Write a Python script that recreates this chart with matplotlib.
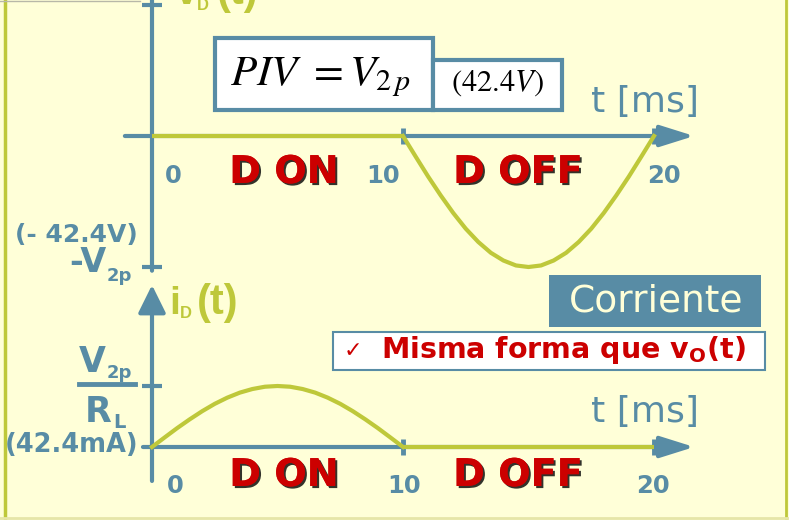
import matplotlib
matplotlib.use('Agg')
import matplotlib.pyplot as plt
import matplotlib.patheffects as pe
from matplotlib.patches import Rectangle

# --- colours (taken from the slide) ---
BG = '#FFFFD8'
BLUE = '#588CA5'
YEL = '#BEC83A'
RED = '#CC0000'

# --- 1. DATA ---
# half-wave rectifier, 20 ms period, peak 42.4 V / 42.4 mA
t_on = [0.0, 0.5, 1.0, 1.5, 2.0, 2.5, 3.0, 3.5, 4.0, 4.5, 5.0,
        5.5, 6.0, 6.5, 7.0, 7.5, 8.0, 8.5, 9.0, 9.5, 10.0]
t_off = [10.0, 10.5, 11.0, 11.5, 12.0, 12.5, 13.0, 13.5, 14.0, 14.5, 15.0,
         15.5, 16.0, 16.5, 17.0, 17.5, 18.0, 18.5, 19.0, 19.5, 20.0]
# diode current while conducting (mA)
i_on = [0.0, 6.6, 13.1, 19.2, 24.9, 30.0, 34.3, 37.8, 40.3, 41.9, 42.4,
        41.9, 40.3, 37.8, 34.3, 30.0, 24.9, 19.2, 13.1, 6.6, 0.0]
# diode voltage while blocking (V)
v_off = [0.0, -6.6, -13.1, -19.2, -24.9, -30.0, -34.3, -37.8, -40.3, -41.9, -42.4,
         -41.9, -40.3, -37.8, -34.3, -30.0, -24.9, -19.2, -13.1, -6.6, 0.0]
t_zero_v = [0.0, 10.0]    # v_D = 0 while ON
t_zero_i = [10.0, 20.0]   # i_D = 0 while OFF
t_ticks = [0, 10, 20]
v_peak = 42.4
i_peak = 42.4
states = ['D ON', 'D OFF']

W, H = 789, 520
fig = plt.figure(figsize=(W / 100, H / 100), dpi=100, facecolor=BG)

# pixel canvas for boxes / labels
px = fig.add_axes([0, 0, 1, 1], facecolor='none')
px.set_xlim(0, W)
px.set_ylim(H, 0)
px.axis('off')


def data_axes(x0, xs, y0, ys):
    # transparent axes, data origin at pixel (x0, y0)
    ax = fig.add_axes([0, 0, 1, 1], facecolor='none')
    ax.set_xlim(-x0 / xs, (W - x0) / xs)
    ax.set_ylim(-(H - y0) / ys, y0 / ys)
    ax.axis('off')
    return ax


ax_v = data_axes(152, 25.1, 136, 131 / 42.4)
ax_i = data_axes(152, 25.1, 447, 61 / 42.4)


def arrow(ax, start, tip, hl, hw):
    ax.annotate('', xy=tip, xytext=start,
                arrowprops=dict(arrowstyle=f'-|>,head_length={hl},head_width={hw}',
                                mutation_scale=20, lw=3, color=BLUE,
                                shrinkA=0, shrinkB=0), annotation_clip=False)


# --- 2. AXES ---
arrow(ax_v, (-1.08, 0), (21.6, 0), 1.05, 0.33)
arrow(ax_v, (0, -43.6), (0, 55.5), 1.0, 0.4)
ax_v.plot(t_ticks[1:], [0, 0], ls='none', marker='|', ms=12, mew=3.5, color=BLUE)
ax_v.plot([0, 0], [v_peak, -v_peak], ls='none', marker='_', ms=15, mew=3, color=BLUE)

arrow(ax_i, (-0.36, 0), (21.6, 0), 1.05, 0.33)
arrow(ax_i, (0, -23.6), (0, 112.6), 0.85, 0.42)
ax_i.plot(t_ticks[1:], [0, 0], ls='none', marker='|', ms=12, mew=3.5, color=BLUE)
ax_i.plot([0], [i_peak], ls='none', marker='_', ms=15, mew=3, color=BLUE)

# --- 3. WAVEFORMS ---
ax_v.plot(t_zero_v, [0, 0], color=YEL, lw=3, zorder=4, solid_capstyle='butt')
ax_v.plot(t_off, v_off, color=YEL, lw=3, zorder=4)
ax_i.plot(t_on, i_on, color=YEL, lw=3, zorder=4)
ax_i.plot(t_zero_i, [0, 0], color=YEL, lw=3, zorder=4, solid_capstyle='butt')

# --- 4. LABELS ---
shadow = [pe.withSimplePatchShadow(offset=(1.5, -1.5), shadow_rgbFace='black', alpha=0.8),
          pe.Normal()]
for yb in (183, 486):
    for label, xc in zip(states, (284, 518)):
        px.text(xc, yb, label, color=RED, fontsize=27.5, fontweight='bold',
                ha='center', va='baseline', path_effects=shadow)

for lab, xc in zip(t_ticks, (173, 383, 664)):
    px.text(xc, 183, str(lab), color=BLUE, fontsize=17.5, fontweight='bold', ha='center', va='baseline')
for lab, xc in zip(t_ticks, (175, 404, 653)):
    px.text(xc, 493, str(lab), color=BLUE, fontsize=17.5, fontweight='bold', ha='center', va='baseline')

for yb in (112, 422):
    px.text(645, yb, 't [ms]', color=BLUE, fontsize=26, ha='center', va='baseline')

# y-axis labels
px.text(76, 242, '(- 42.4V)', color=BLUE, fontsize=18, fontweight='bold', ha='center', va='baseline')
px.text(107, 272, '-V', color=BLUE, fontsize=24, fontweight='bold', ha='right', va='baseline')
px.text(107, 281, '2p', color=BLUE, fontsize=13, fontweight='bold', ha='left', va='baseline')

px.text(92, 372, 'V', color=BLUE, fontsize=25, fontweight='bold', ha='center', va='baseline')
px.text(107, 378, '2p', color=BLUE, fontsize=13, fontweight='bold', ha='left', va='baseline')
px.plot([79, 135], [384, 384], color=BLUE, lw=3.5)
px.text(98, 422, 'R', color=BLUE, fontsize=25, fontweight='bold', ha='center', va='baseline')
px.text(113, 428, 'L', color=BLUE, fontsize=14, fontweight='bold', ha='left', va='baseline')
px.text(72, 452, '(42.4mA)', color=BLUE, fontsize=18.5, fontweight='bold', ha='center', va='baseline')

# signal names
fam = 'Liberation Sans'
px.text(169, 314, 'i', color=YEL, fontsize=28, fontweight='bold', family=fam, va='baseline')
px.text(180, 318, 'D', color=YEL, fontsize=12, fontweight='bold', family=fam, va='baseline')
px.text(197, 314, '(t)', color=YEL, fontsize=30, fontweight='bold', family=fam, va='baseline')
px.text(176, 4, 'v', color=YEL, fontsize=28, fontweight='bold', family=fam, va='baseline')
px.text(197, 10, 'D', color=YEL, fontsize=12, fontweight='bold', family=fam, va='baseline')
px.text(217, 4, '(t)', color=YEL, fontsize=30, fontweight='bold', family=fam, va='baseline')

# PIV boxes
px.add_patch(Rectangle((215, 38), 218, 72, fc='white', ec=BLUE, lw=3))
px.add_patch(Rectangle((433, 60), 129, 50, fc='white', ec=BLUE, lw=3))
px.text(230, 85, r'$PIV\ {=}V_{2\,p}$', fontsize=31, math_fontfamily='stix', va='baseline', color='black')
px.text(497, 91, r'$(42.4V)$', fontsize=22, math_fontfamily='stix', ha='center', va='baseline', color='black')

# Corriente banner
px.add_patch(Rectangle((549, 275), 212, 52, fc=BLUE, ec='none'))
px.text(656, 302, 'Corriente', color=BG, fontsize=27, ha='center', va='center')

px.add_patch(Rectangle((333, 332), 432, 38, fc='white', ec=BLUE, lw=1.5))
px.text(353, 351, '\u2713', color=RED, fontsize=16, ha='center', va='center')
px.text(381, 358, r'Misma forma que $\mathbf{v_O}$(t)', color=RED, fontsize=20.5,
        fontweight='bold', ha='left', va='baseline')

# slide frame
px.plot([5, 5], [0, H], color=YEL, lw=2.5)
px.plot([786, 786], [0, H], color=YEL, lw=2)
px.plot([0, W], [518, 518], color='#E6E6A8', lw=2)
px.plot([0, 140], [0.5, 0.5], color='#B8B8A8', lw=1)

fig.savefig('out.png', dpi=100, facecolor=BG)
